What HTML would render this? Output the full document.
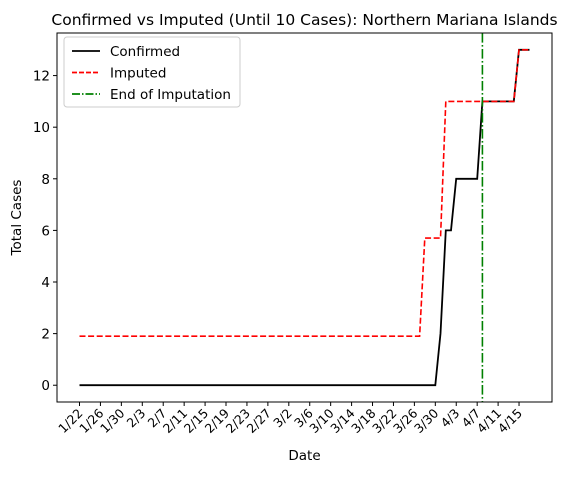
<!DOCTYPE html>
<html><head><meta charset="utf-8"><style>
body{margin:0;background:#fff}
svg{font-family:"DejaVu Sans","Liberation Sans",sans-serif}
</style></head><body>
<svg id="c" width="586" height="473" xmlns="http://www.w3.org/2000/svg"></svg>
<script>
const dateLabels=["1/22","1/26","1/30","2/3","2/7","2/11","2/15","2/19","2/23","2/27","3/2","3/6","3/10","3/14","3/18","3/22","3/26","3/30","4/3","4/7","4/11","4/15"];
const yTicks=[0,2,4,6,8,10,12];
const confirmedDays=[0,68,69,70,71,72,76,77,83,84,86];
const confirmedVals=[0,0,2,6,6,8,8,11,11,13,13];
const imputedDays=[0,65,66,69,70,83,84,86];
const imputedVals=[1.9,1.9,5.7,5.7,11,11,13,13];
const endDay=77;
const L=57,R=552,T=33,B=402;
const xMin=-4.3,xMax=90.3,yMin=-0.65,yMax=13.65;
const X=d=>L+(d-xMin)/(xMax-xMin)*(R-L);
const Y=v=>B-(v-yMin)/(yMax-yMin)*(B-T);
const svg=document.getElementById('c');
const NS='http://www.w3.org/2000/svg';
function el(t,a,txt){const e=document.createElementNS(NS,t);for(const k in a)e.setAttribute(k,a[k]);if(txt!=null)e.textContent=txt;svg.appendChild(e);return e;}
let e=el('text',{x:(L+R)/2,y:25,'text-anchor':'middle','font-size':15.5},'Confirmed vs Imputed (Until 10 Cases): Northern Mariana Islands');


yTicks.forEach(v=>{
 let t=el('line',{x1:L-4,x2:L,y1:Y(v),y2:Y(v),stroke:'#000'});
 
 
 let l=el('text',{x:L-7,y:Y(v)+5,'text-anchor':'end','font-size':13.5},String(v));
 
 
});
dateLabels.forEach((s,i)=>{
 const x=X(i*4);
 let t=el('line',{x1:x,x2:x,y1:B,y2:B+4,stroke:'#000'});
 
 
 let l=el('text',{x:x+4,y:B+12,'text-anchor':'end','font-size':12.5,transform:`rotate(-45 ${x+4} ${B+12})`},s);
 
 
});
function line(days,vals,attrs,name){
 const p=days.map((d,i)=>X(d).toFixed(1)+','+Y(vals[i]).toFixed(1)).join(' ');
 const a=Object.assign({points:p,fill:'none'},attrs);
 let l=el('polyline',a);
 
 
}
line(confirmedDays,confirmedVals,{stroke:'#000','stroke-width':1.8},'confirmed-line');
line(imputedDays,imputedVals,{stroke:'#f00','stroke-width':1.6,'stroke-dasharray':'6,2.6'},'imputed-line');
let g=el('line',{x1:X(endDay),x2:X(endDay),y1:T,y2:B,stroke:'#008000','stroke-width':1.6,'stroke-dasharray':'9.6,2.4,1.6,2.4'});


let f=el('rect',{x:L,y:T,width:R-L,height:B-T,fill:'none',stroke:'#000','stroke-width':1});


let xl=el('text',{x:(L+R)/2,y:460,'text-anchor':'middle','font-size':13.5},'Date');


let yl=el('text',{x:21,y:(T+B)/2,'text-anchor':'middle','font-size':13.5,transform:`rotate(-90 21 ${(T+B)/2})`},'Total Cases');


let lb=el('rect',{x:64,y:37,width:176,height:70,rx:3,fill:'#fff','fill-opacity':0.8,stroke:'#ccc'});


const leg=[['Confirmed','#000','none'],['Imputed','#f00','5,2'],['End of Imputation','#008000','8,2,1.5,2']];
leg.forEach((d,i)=>{
 const y=51+i*21.5;
 let s=el('line',{x1:72,x2:100,y1:y,y2:y,stroke:d[1],'stroke-width':1.7,'stroke-dasharray':d[2]});
 
 
 let t=el('text',{x:110,y:y+5,'font-size':13.5},d[0]);
 
 
});
</script>
</body></html>
